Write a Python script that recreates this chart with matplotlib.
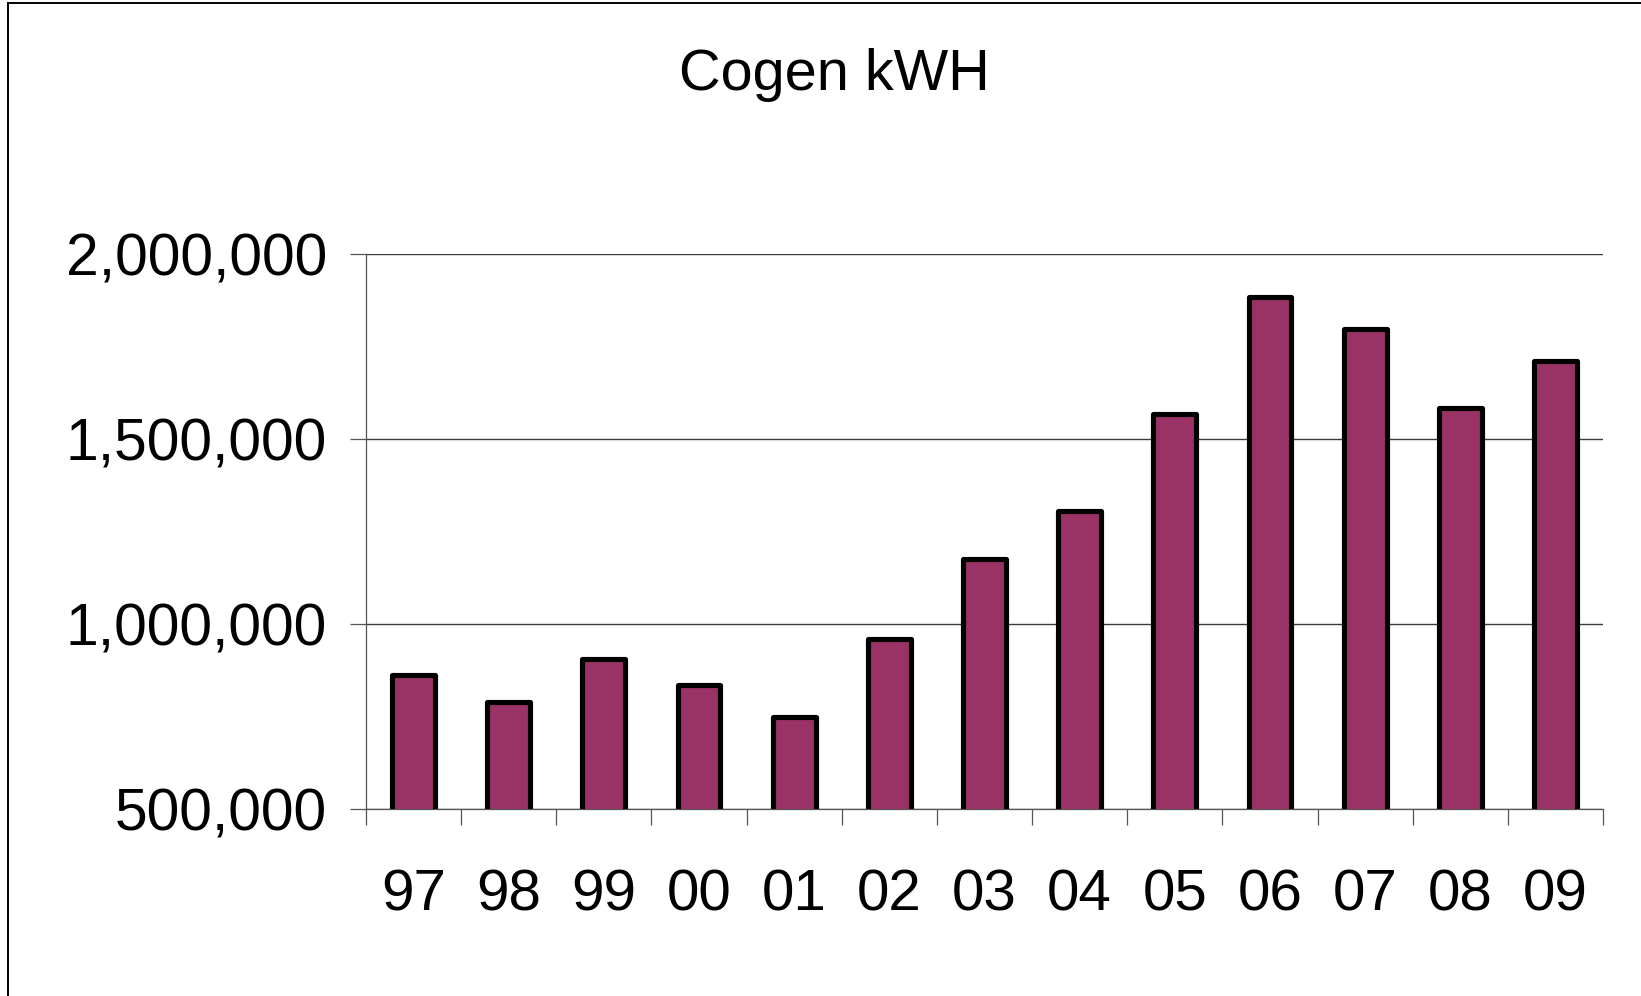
import matplotlib
matplotlib.use("Agg")
import matplotlib.pyplot as plt
from matplotlib.lines import Line2D
from matplotlib.ticker import FuncFormatter, FixedLocator

# ---- data ----
years = ["97", "98", "99", "00", "01", "02", "03", "04", "05", "06", "07", "08", "09"]
kwh = [861000, 790000, 905000, 834000, 747000, 960000, 1176000, 1305000,
       1569000, 1884000, 1798000, 1583000, 1712000]
yticks = [500000, 1000000, 1500000, 2000000]
title = "Cogen kWH"

plt.rcParams['font.family'] = ['Liberation Sans', 'DejaVu Sans']

W, H = 1641, 996
fig = plt.figure(figsize=(W / 100, H / 100), dpi=100)
fig.patch.set_facecolor("white")

left, right = 366 / W, 1603 / W
top, bottom = 1 - 254.3 / H, 1 - 808.7 / H
ax = fig.add_axes([left, bottom, right - left, top - bottom])

x = list(range(len(years)))
ax.bar(x, kwh, width=0.45, color="#993366", edgecolor="black",
       linewidth=3.7, zorder=3, joinstyle="round")

ax.set_xlim(-0.5, len(years) - 0.5)
ax.set_ylim(500000, 2000000)

# gridlines
ax.set_yticks(yticks)
ax.yaxis.grid(True, color="#3a3a3a", linewidth=1.0, zorder=1)
ax.set_axisbelow(True)
ax.yaxis.set_major_formatter(FuncFormatter(lambda v, p: f"{int(v):,}"))
ax.tick_params(axis="y", direction="out", length=11.5, width=0.9,
               color="#555555", pad=16.5, labelsize=42.3)

ax.set_xticks(x)
ax.set_xticklabels(years)
ax.tick_params(axis="x", which="major", length=0, pad=43, labelsize=42)
ax.xaxis.set_minor_locator(FixedLocator([i - 0.5 for i in range(len(years) + 1)]))
ax.tick_params(axis="x", which="minor", direction="out", length=11.5,
               width=0.9, color="#555555")

for s in ["top", "right"]:
    ax.spines[s].set_visible(False)
for s in ["left", "bottom"]:
    ax.spines[s].set_color("#555555")
    ax.spines[s].set_linewidth(0.9)

fig.text(834 / W, 1 - 75 / H, title, ha="center", va="center", fontsize=41.5)

# outer frame (top and left edges visible)
fig.add_artist(Line2D([8 / W, 8 / W], [0, 1 - 3 / H], transform=fig.transFigure,
                      color="black", linewidth=1.4))
fig.add_artist(Line2D([8 / W, 1], [1 - 3 / H, 1 - 3 / H], transform=fig.transFigure,
                      color="black", linewidth=1.4))

fig.savefig("out.png", dpi=100, facecolor="white")
